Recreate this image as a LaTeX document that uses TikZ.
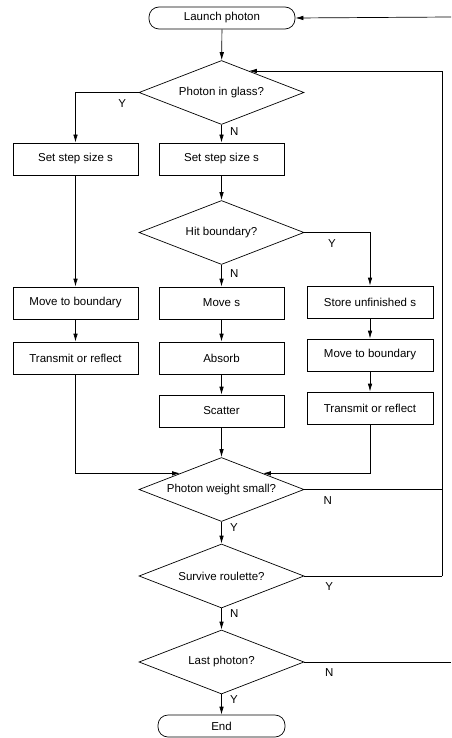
\documentclass[tikz,border=0pt]{standalone}
\usepackage{fontspec}
\setmainfont{Liberation Sans}
\usetikzlibrary{shapes.geometric, arrows.meta, calc, positioning}

\begin{document}
\begin{tikzpicture}[x=1pt, y=-1pt, line width=0.7pt, >={Latex[length=8pt, width=4.5pt]},
	font=\fontsize{11.5}{13}\selectfont,
	term/.style={draw, rounded corners=10pt, minimum height=22pt, inner sep=0pt},
	box/.style={draw, minimum width=125pt, minimum height=32pt, inner sep=0pt},
	decide/.style={draw, diamond, shape aspect=2.6, minimum width=165pt, minimum height=64pt, inner sep=1pt}]
	\useasboundingbox (0, 0) rectangle (451, 738);

	\node[term, minimum width=146pt] (launch) at (222, 18) {Launch photon};
	\node[decide] (glass) at (221.5, 92.5) {Photon in glass?};
	\node[box] (setL) at (75.5, 159) {Set step size s};
	\node[box] (setM) at (221.5, 159) {Set step size s};
	\node[decide] (hit) at (221.5, 232.5) {Hit boundary?};

	\node[box] (moveL) at (75.5, 303) {Move to boundary};
	\node[box] (moves) at (221.5, 303) {Move s};
	\node[box, minimum width=126pt] (store) at (370, 302) {Store unfinished s};
	\node[box] (transL) at (75.5, 358) {Transmit or reflect};
	\node[box] (absorb) at (221.5, 358) {Absorb};
	\node[box, minimum width=126pt] (moveR) at (370, 355) {Move to boundary};
	\node[box] (scatter) at (221.5, 411) {Scatter};
	\node[box, minimum width=126pt] (transR) at (370, 408) {Transmit or reflect};

	\node[decide] (small) at (221.5, 489.5) {Photon weight small?};
	\node[decide] (survive) at (221.5, 576) {Survive roulette?};
	\node[decide] (last) at (221.5, 662) {Last photon?};
	\node[term, minimum width=127pt] (end) at (221.5, 726) {End};

	\coordinate (loopTop) at (442, 71);
	\coordinate (loopBot) at (442, 576);
	\coordinate (outTop) at (451, 17);
	\coordinate (outBot) at (451, 662);
	\coordinate (glassIn) at ($(glass.north)!0.33!(glass.east)$);

	\draw[->] (launch) -- (glass);
	\draw[->] (glass.west) -| node[pos=0.13, below=3pt] {Y} (setL.north);
	\draw[->] (glass) -- node[pos=0.4, right=5pt] {N} (setM);
	\draw[->] (setM) -- (hit);
	\draw[->] (hit.east) -| node[pos=0.21, below=3pt] {Y} (store.north);
	\draw[->] (hit) -- node[pos=0.4, right=5pt] {N} (moves);

	\draw[->] (setL) -- (moveL);
	\draw[->] (moveL) -- (transL);
	\draw[->] (moves) -- (absorb);
	\draw[->] (absorb) -- (scatter);
	\draw[->] (store) -- (moveR);
	\draw[->] (moveR) -- (transR);

	\draw[->] (transL.south) |- (small.north west);
	\draw[->] (transR.south) |- (small.north east);
	\draw[->] (scatter) -- (small);

	\draw (small.east) -- node[pos=0.17, below=3pt] {N} (small.east -| loopBot);
	\draw[->] (small) -- node[pos=0.25, right=5pt] {Y} (survive);
	\draw (survive.east) -- node[pos=0.18, below=3pt] {Y} (loopBot);
	\draw[->] (loopBot) -- (loopTop) -- (loopTop -| glassIn);
	\draw[->] (survive) -- node[pos=0.25, right=5pt] {N} (last);
	\draw (last.east) -- node[pos=0.17, below=3pt] {N} (outBot);
	\draw[->] (last) -- node[pos=0.25, right=5pt] {Y} (end);
	\draw[->] (outTop) -- (launch.east);
\end{tikzpicture}
\end{document}
